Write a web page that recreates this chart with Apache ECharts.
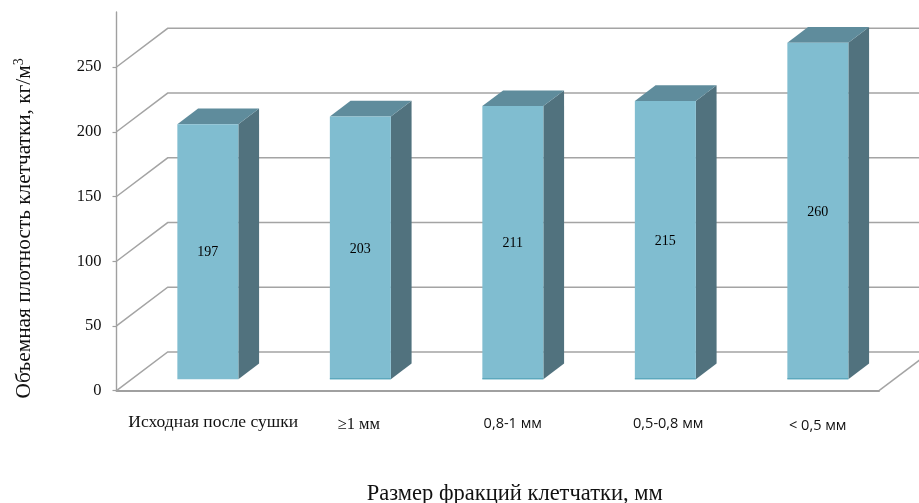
<!DOCTYPE html>
<html>
<head>
<meta charset="utf-8">
<style>html,body{margin:0;padding:0;background:#fff}#chart{width:919px;height:503px}</style>
<script src="https://cdn.jsdelivr.net/npm/echarts@6/dist/echarts.min.js"></script>
</head>
<body>
<div id="chart"></div>
<script>
// Bulk density of cellulose fractions
const categories = ['Исходная после сушки', '≥1 мм', '0,8-1 мм', '0,5-0,8 мм', '< 0,5 мм'];
const densities = [197, 203, 211, 215, 260];
const yTicks = [0, 50, 100, 150, 200, 250];

const SERIF = '"Liberation Serif", serif';
const SANS = '"Open Sans", sans-serif';

// Oblique projection of the chart box, in pixels per full box depth
const BOX_DX = 51.2, BOX_DY = 38.7;
const BAR_NEAR = 0.295, BAR_FAR = 0.7;
const BAR_WIDTH_RATIO = 0.4;

// Screen position of a category slot, shifted sideways by a fraction of the slot width
function project(api, cat, slotShift, v, depth) {
  const p = api.coord([cat, v]);
  const slot = api.size([1, 0])[0];
  return [p[0] + slotShift * slot + depth * BOX_DX, p[1] - depth * BOX_DY];
}

// Wall grid lines: one oblique stroke along the side wall, then across the back wall
function renderGrid(params, api) {
  const v = api.value(0);
  const last = categories.length - 1;
  const style = { stroke: '#a4a4a4', lineWidth: 1.5, fill: null };
  const pts = [
    project(api, 0, -0.5, v, 0),
    project(api, 0, -0.5, v, 1),
    project(api, last, 0.5, v, 1)
  ];
  const children = [{ type: 'polyline', shape: { points: pts }, style }];
  if (v === 0) {
    const a = project(api, last, 0.5, 0, 0), b = project(api, last, 0.5, 0, 1);
    children.push({
      type: 'line',
      shape: { x1: a[0], y1: a[1], x2: b[0], y2: b[1] },
      style: { stroke: '#a4a4a4', lineWidth: 1.5 }
    });
  }
  return { type: 'group', children };
}

// Prism for one bar: front, top and right faces plus the value on the front
function renderBar(params, api) {
  const i = api.value(0), v = api.value(1);
  const half = BAR_WIDTH_RATIO / 2;
  const corner = (side, val, depth) => project(api, i, side * half, val, depth);
  const fl = corner(-1, 0, BAR_NEAR), fr = corner(1, 0, BAR_NEAR);
  const tl = corner(-1, v, BAR_NEAR), tr = corner(1, v, BAR_NEAR);
  const btr = corner(1, v, BAR_FAR), btl = corner(-1, v, BAR_FAR), bfr = corner(1, 0, BAR_FAR);
  const children = [
    { type: 'polygon', shape: { points: [tr, btr, bfr, fr] }, style: { fill: '#51727e' } },
    { type: 'polygon', shape: { points: [tl, btl, btr, tr] }, style: { fill: '#5f8c9c' } },
    { type: 'polygon', shape: { points: [tl, tr, fr, fl] }, style: { fill: '#80bdd0' } },
    {
      type: 'text',
      style: {
        x: (tl[0] + tr[0]) / 2, y: (tl[1] + fl[1]) / 2 + 1, text: String(v),
        align: 'center', verticalAlign: 'middle',
        font: '14px ' + SERIF, fill: '#000'
      }
    }
  ];
  if (i > 0) {
    children.push({
      type: 'line',
      shape: { x1: fl[0], y1: fl[1] - 0.5, x2: fr[0], y2: fr[1] - 0.5 },
      style: { stroke: '#4fa0b5', lineWidth: 1 }
    });
  }
  return { type: 'group', children };
}

const chart = echarts.init(document.getElementById('chart'), null, { renderer: 'canvas' });
chart.setOption({
  animation: false,
  backgroundColor: '#fff',
  grid: { left: 116.5, right: 40, top: 12, bottom: 112.3, outerBoundsMode: 'none' },
  xAxis: {
    type: 'category',
    data: categories,
    axisLine: { lineStyle: { color: '#a0a0a0', width: 2 } },
    axisTick: { show: false },
    axisLabel: {
      interval: 0,
      margin: 23,
      hideOverlap: false,
      formatter: (value, idx) => `{c${idx}|${value}}`,
      rich: {
        c0: { fontFamily: SERIF, fontSize: 17.5, color: '#111', padding: [0, 0, 0, 41] },
        c1: { fontFamily: SERIF, fontSize: 16.5, color: '#111', padding: [2, 0, 0, 27] },
        c2: { fontFamily: SANS, fontSize: 14.5, color: '#111', padding: [3, 0, 0, 30] },
        c3: { fontFamily: SANS, fontSize: 14.5, color: '#111', padding: [3, 0, 0, 36] },
        c4: { fontFamily: SANS, fontSize: 14.5, color: '#111', padding: [5, 0, 0, 30] }
      }
    },
    name: 'Размер фракций клетчатки, мм',
    nameLocation: 'middle',
    nameGap: 92,
    nameTextStyle: { fontFamily: SERIF, fontSize: 22.5, color: '#111', padding: [0, 0, 0, 34] }
  },
  yAxis: {
    type: 'value',
    min: 0,
    max: 292.5,
    interval: 50,
    axisLine: { show: true, onZero: false, lineStyle: { color: '#a0a0a0', width: 1.4 } },
    axisTick: { show: true, length: 4, customValues: yTicks, lineStyle: { color: '#a0a0a0', width: 1.2 } },
    splitLine: { show: false },
    axisLabel: {
      customValues: yTicks,
      margin: 15,
      fontFamily: SERIF,
      fontSize: 16.5,
      color: '#111'
    },
    name: '{t|Объемная плотность клетчатки, кг/м}{s|3}',
    nameLocation: 'middle',
    nameRotate: 90,
    nameGap: 80,
    nameTextStyle: {
      padding: [0, 54, 0, 0],
      rich: {
        t: { fontFamily: SERIF, fontSize: 21.3, color: '#111', lineHeight: 24 },
        s: { fontFamily: SERIF, fontSize: 14, color: '#111', verticalAlign: 'top', lineHeight: 15 }
      }
    }
  },
  series: [
    {
      type: 'custom',
      name: 'Сетка',
      z: 1,
      silent: true,
      coordinateSystem: 'cartesian2d',
      renderItem: renderGrid,
      encode: { y: 0 },
      data: yTicks.map(v => [v])
    },
    {
      type: 'custom',
      name: 'Объемная плотность',
      z: 3,
      coordinateSystem: 'cartesian2d',
      renderItem: renderBar,
      encode: { x: 0, y: 1 },
      data: densities.map((v, i) => [i, v])
    }
  ]
});
</script>
</body>
</html>
